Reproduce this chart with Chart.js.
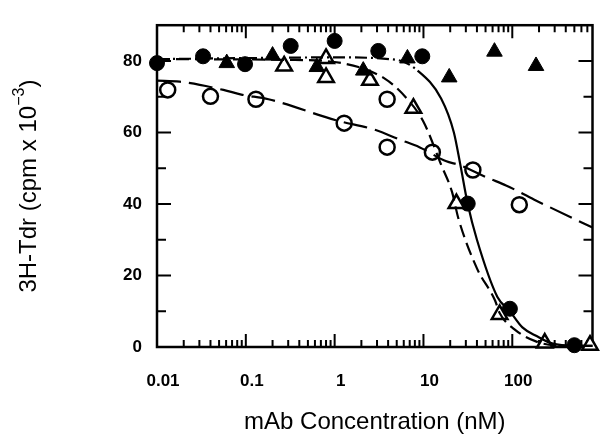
<!DOCTYPE html>
<html lang="en">
<head>
    <meta charset="UTF-8">
    <title>3H-Tdr vs mAb Concentration</title>
    <script src="https://cdn.jsdelivr.net/npm/chart.js@4.4.1/dist/chart.umd.min.js"></script>
    <style>
        body { margin: 0; background: #fff; }
    </style>
</head>
<body>
    <canvas id="chart" width="604" height="441"></canvas>
    <script>
        // axis ranges and tick labels
        const xMin = 0.01, xMax = 800;
        const yMin = 0, yMax = 90;
        const xTickLabels = [0.01, 0.1, 1, 10, 100];
        const yTickLabels = [0, 20, 40, 60, 80];
        const yMinorTicks = [10, 30, 50, 70];

        // measured points (nM, cpm x 10^-3)
        const filledCircleX = [0.01, 0.033, 0.098, 0.32, 1.0, 3.1, 9.7, 31.5, 94, 500];
        const filledCircleY = [79.4, 81.3, 79.1, 84.2, 85.6, 82.8, 81.3, 40.1, 10.7, 0.5];
        const filledTriangleX = [0.061, 0.2, 0.63, 2.1, 6.6, 19.5, 63, 185];
        const filledTriangleY = [79.4, 81.5, 78.3, 77.3, 80.7, 75.4, 82.6, 78.6];
        const openTriangleX = [0.27, 0.8, 0.8, 2.5, 7.7, 23.5, 72, 232, 750];
        const openTriangleY = [78.6, 80.7, 75.4, 74.6, 66.8, 40.1, 9.1, 1.1, 0.5];
        const openCircleX = [0.0132, 0.040, 0.13, 1.28, 3.9, 3.9, 12.6, 36, 120];
        const openCircleY = [71.9, 70.1, 69.3, 62.6, 69.3, 55.9, 54.5, 49.5, 39.8];

        // fitted curves
        const circleFitX = [0.01, 0.1, 1, 5, 8.6, 15.8, 22, 26, 31.5, 40, 68, 94, 130, 190, 280, 500, 800];
        const circleFitY = [80.5, 80.8, 81, 80.3, 77.3, 69.5, 60, 51, 40, 30, 14, 10, 5.5, 3, 1, 0.3, 0.3];
        const triangleFitX = [0.01, 0.3, 1.2, 3.7, 6.5, 10, 15.8, 21, 24.7, 40, 64, 72, 105, 187, 300, 800];
        const triangleFitY = [80.5, 80.3, 79.4, 75, 69.5, 63, 51, 43.3, 36, 22, 13, 9.5, 5, 1.5, 0.5, 0.3];
        const openCircleFitX = [0.01, 0.018, 0.056, 0.089, 0.18, 1.04, 2.9, 5.4, 9, 17.8, 26, 53, 85, 177, 800];
        const openCircleFitY = [74.5, 74.2, 71.9, 70.6, 69.3, 63.4, 60.7, 58, 55.9, 52, 50.8, 47.3, 45.2, 41.2, 33.4];

        const toPoints = (xs, ys) => xs.map((x, i) => ({ x: x, y: ys[i] }));

        const fitLine = (xs, ys, dash) => ({
            type: 'line',
            data: toPoints(xs, ys),
            borderColor: '#000',
            borderWidth: 2.2,
            borderDash: dash,
            pointRadius: 0,
            cubicInterpolationMode: 'monotone',
            fill: false,
            clip: false
        });

        const markers = (xs, ys, style, radius, filled) => ({
            type: 'line',
            showLine: false,
            data: toPoints(xs, ys),
            pointStyle: style,
            pointRadius: radius,
            pointBorderWidth: filled ? 1 : 2.5,
            pointBorderColor: '#000',
            pointBackgroundColor: filled ? '#000' : '#fff',
            clip: false
        });

        const circleFit = fitLine(circleFitX, circleFitY, []);
        circleFit.segment = {
            borderDash: ctx => ctx.p0.parsed.x < 8 ? [12, 4, 2, 4] : []
        };

        // minor ticks for the log axis: 2..9 in each decade
        const xMinorTicks = [];
        for (let d = 0.01; d < xMax; d *= 10) {
            for (let m = 2; m <= 9; m++) {
                const v = +(m * d).toPrecision(3);
                if (v < xMax) xMinorTicks.push(v);
            }
        }

        const titleFamily = '"Liberation Sans", Arial, sans-serif';

        // frame and inward tick marks on all four sides
        const framePlugin = {
            id: 'frame',
            beforeDatasetsDraw(chart) {
                const { ctx, chartArea: a, scales } = chart;
                ctx.save();
                ctx.strokeStyle = '#000';
                ctx.lineWidth = 2.5;
                ctx.strokeRect(a.left, a.top, a.right - a.left, a.bottom - a.top);
                ctx.lineWidth = 2;
                ctx.beginPath();
                const xt = (v, len) => {
                    const px = scales.x.getPixelForValue(v);
                    ctx.moveTo(px, a.bottom); ctx.lineTo(px, a.bottom - len);
                    ctx.moveTo(px, a.top); ctx.lineTo(px, a.top + len);
                };
                const yt = (v, len) => {
                    const py = scales.y.getPixelForValue(v);
                    ctx.moveTo(a.left, py); ctx.lineTo(a.left + len, py);
                    ctx.moveTo(a.right, py); ctx.lineTo(a.right - len, py);
                };
                xTickLabels.forEach(v => xt(v, 13));
                xMinorTicks.forEach(v => xt(v, 7));
                yTickLabels.forEach(v => yt(v, 14));
                yMinorTicks.forEach(v => yt(v, 9));
                ctx.stroke();
                ctx.restore();
            },
            afterDraw(chart) {
                const { ctx, chartArea: a } = chart;
                // y title with superscript
                ctx.save();
                ctx.fillStyle = '#000';
                ctx.translate(29, (a.top + a.bottom) / 2);
                ctx.rotate(-Math.PI / 2);
                ctx.textBaseline = 'middle';
                const main = '3H-Tdr (cpm x 10';
                const sup = '\u22123';
                const close = ')';
                const big = '24px ' + titleFamily;
                const small = '16px ' + titleFamily;
                ctx.font = big;
                const w1 = ctx.measureText(main).width;
                const w3 = ctx.measureText(close).width;
                ctx.font = small;
                const w2 = ctx.measureText(sup).width;
                const x0 = -(w1 + w2 + w3) / 2;
                ctx.font = big;
                ctx.fillText(main, x0, 0);
                ctx.font = small;
                ctx.fillText(sup, x0 + w1, -9);
                ctx.font = big;
                ctx.fillText(close, x0 + w1 + w2, 0);
                ctx.restore();
            }
        };

        const tickFont = { family: titleFamily, size: 17, weight: 'bold' };

        new Chart(document.getElementById('chart'), {
            data: {
                datasets: [
                    fitLine(openCircleFitX, openCircleFitY, [24, 8]),
                    fitLine(triangleFitX, triangleFitY, [13, 6]),
                    circleFit,
                    markers(openCircleX, openCircleY, 'circle', 7.5, false),
                    markers(filledTriangleX, filledTriangleY, 'triangle', 9, true),
                    markers(openTriangleX, openTriangleY, 'triangle', 9, false),
                    markers(filledCircleX, filledCircleY, 'circle', 7.5, true)
                ]
            },
            options: {
                responsive: false,
                animation: false,
                layout: { padding: { top: 10, right: 2, left: 0, bottom: 0 } },
                plugins: {
                    legend: { display: false },
                    tooltip: { enabled: false }
                },
                scales: {
                    x: {
                        type: 'logarithmic',
                        min: xMin,
                        max: xMax,
                        grid: { display: false, drawTicks: false },
                        border: { display: false },
                        afterBuildTicks: scale => { scale.ticks = xTickLabels.map(v => ({ value: v })); },
                        afterFit: scale => { scale.height = 94; },
                        ticks: {
                            color: '#000',
                            font: tickFont,
                            padding: 24,
                            labelOffset: 6,
                            maxRotation: 0,
                            autoSkip: false,
                            callback: v => String(v)
                        },
                        title: {
                            display: true,
                            text: 'mAb Concentration (nM)',
                            color: '#000',
                            font: { family: titleFamily, size: 24 },
                            padding: { top: 14 }
                        }
                    },
                    y: {
                        type: 'linear',
                        min: yMin,
                        max: yMax,
                        grid: { display: false, drawTicks: false },
                        border: { display: false },
                        afterBuildTicks: scale => { scale.ticks = yTickLabels.map(v => ({ value: v })); },
                        afterFit: scale => { scale.width = 157; },
                        ticks: {
                            color: '#000',
                            font: tickFont,
                            padding: 15
                        }
                    }
                }
            },
            plugins: [framePlugin]
        });
    </script>
</body>
</html>
